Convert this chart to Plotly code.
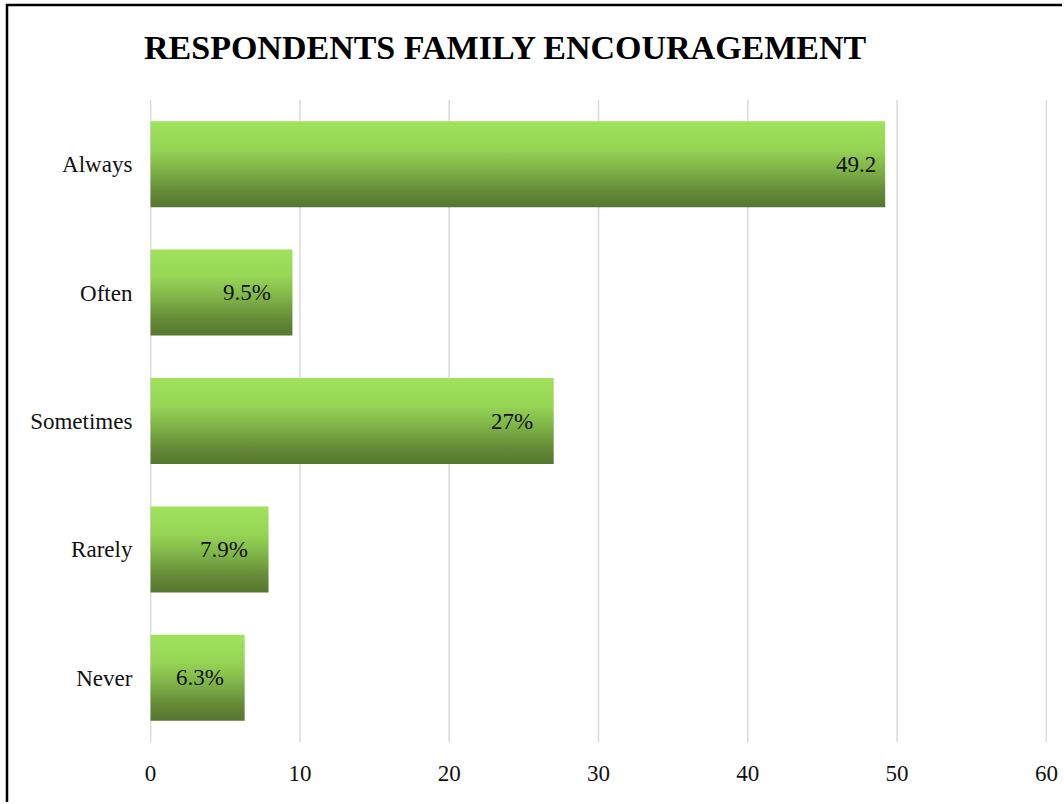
import plotly.graph_objects as go

# Survey responses: how often respondents receive family encouragement
categories = ["Always", "Often", "Sometimes", "Rarely", "Never"]
values = [49.2, 9.5, 27, 7.9, 6.3]
value_labels = ["49.2", "9.5%", "27%", "7.9%", "6.3%"]
x_ticks = [0, 10, 20, 30, 40, 50, 60]

W, H = 1064, 804
L, R, T, B = 150, 17, 100, 62
PW, PH = W - L - R, H - T - B

SERIF = "Liberation Serif"
BAR_HALF = 0.335
GRADIENT = [
    [0.0, "#55762f"],
    [0.2, "#668c38"],
    [0.45, "#80b548"],
    [0.68, "#95d555"],
    [1.0, "#9fe25b"],
]

n = len(categories)
ypos = [n - 1 - i for i in range(n)]

fig = go.Figure()

# vertical gridlines at every tick, including both ends of the axis
for t in x_ticks:
    fig.add_shape(
        type="line", xref="x", yref="paper",
        x0=t, x1=t, y0=0, y1=1,
        line=dict(color="#d9d9d9", width=1.5),
        layer="below",
    )

# horizontal bars as filled rectangles with a vertical colour gradient
for cat, v, y in zip(categories, values, ypos):
    fig.add_trace(go.Scatter(
        x=[0, v, v, 0, 0],
        y=[y - BAR_HALF, y - BAR_HALF, y + BAR_HALF, y + BAR_HALF, y - BAR_HALF],
        mode="lines",
        fill="toself",
        fillgradient=dict(type="vertical", colorscale=GRADIENT),
        line=dict(width=0),
        hoverinfo="skip",
        showlegend=False,
        name=cat,
    ))

# value labels just inside the end of each bar
for v, y, lab in zip(values, ypos, value_labels):
    fig.add_annotation(
        x=v, y=y, text=lab, showarrow=False,
        xanchor="right", yanchor="middle",
        xshift=-19 if lab.endswith("%") else -7,
        font=dict(family=SERIF, size=23, color="#111111"),
    )

# title
fig.add_annotation(
    xref="paper", yref="paper",
    x=(505 - L) / PW, y=1 + (T - 48) / PH,
    text="<b>RESPONDENTS FAMILY ENCOURAGEMENT</b>",
    showarrow=False, xanchor="center", yanchor="middle",
    font=dict(family=SERIF, size=34, color="#000000"),
)

# frame lines along the top and left edges
fig.add_shape(
    type="path", xref="paper", yref="paper",
    path="M {x0},{y0} L {x0},{y1} L {x1},{y1}".format(
        x0=(7 - L) / PW, y0=-(B - 2) / PH,
        y1=1 + (T - 5) / PH, x1=(W - 2 - L) / PW,
    ),
    line=dict(color="#000000", width=2.5),
)

fig.update_xaxes(
    range=[-0.04, 60.04], tickvals=x_ticks,
    showgrid=False, zeroline=False, showline=False,
    ticks="outside", ticklen=10, tickcolor="rgba(0,0,0,0)",
    tickfont=dict(family=SERIF, size=23, color="#111111"),
    automargin=False, fixedrange=True,
)
fig.update_yaxes(
    range=[-0.5, n - 0.5], tickvals=ypos, ticktext=categories,
    showgrid=False, zeroline=False, showline=False,
    ticks="outside", ticklen=12, tickcolor="rgba(0,0,0,0)",
    tickfont=dict(family=SERIF, size=23, color="#111111"),
    automargin=False, fixedrange=True,
)

fig.update_layout(
    width=W, height=H,
    margin=dict(l=L, r=R, t=T, b=B, pad=0, autoexpand=False),
    paper_bgcolor="#ffffff", plot_bgcolor="#ffffff",
    showlegend=False,
)

fig.write_html("out.html")
